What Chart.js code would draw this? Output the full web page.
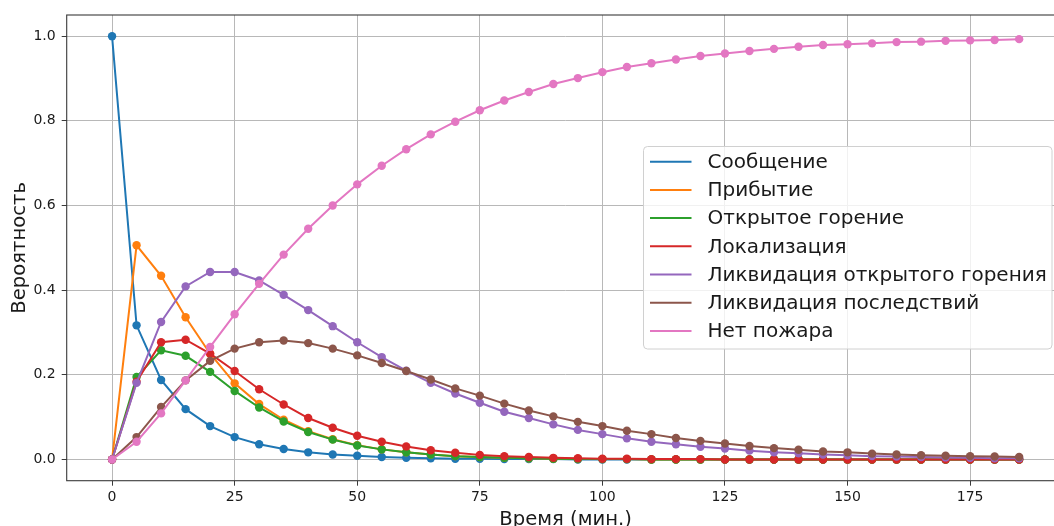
<!DOCTYPE html>
<html lang="ru">
<head>
<meta charset="utf-8">
<title>Вероятности состояний пожара</title>
<script src="https://cdn.jsdelivr.net/npm/chart.js@4.4.1/dist/chart.umd.min.js"></script>
<style>
  html, body { margin: 0; padding: 0; background: #ffffff; overflow: hidden; }
  #wrap { position: relative; width: 1075px; height: 526px; }
</style>
</head>
<body>
<div id="wrap"><canvas id="chart"></canvas></div>
<script>
// Time points, minutes
const minutes = [0, 5, 10, 15, 20, 25, 30, 35, 40, 45, 50, 55, 60, 65, 70, 75, 80, 85, 90, 95,
                 100, 105, 110, 115, 120, 125, 130, 135, 140, 145, 150, 155, 160, 165, 170, 175, 180, 185];

// State probabilities over time
const soobshchenie = [1.000, 0.317, 0.188, 0.119, 0.079, 0.053, 0.036, 0.025, 0.017, 0.012,
                      0.009, 0.006, 0.004, 0.003, 0.002, 0.002, 0.001, 0.001, 0.001, 0.000,
                      0.000, 0.000, 0.000, 0.000, 0.000, 0.000, 0.000, 0.000, 0.000, 0.000,
                      0.000, 0.000, 0.000, 0.000, 0.000, 0.000, 0.000, 0.000];
const pribytie = [0.000, 0.506, 0.434, 0.336, 0.250, 0.180, 0.131, 0.094, 0.067, 0.048,
                  0.034, 0.024, 0.017, 0.012, 0.008, 0.006, 0.004, 0.003, 0.002, 0.001,
                  0.001, 0.001, 0.000, 0.000, 0.000, 0.000, 0.000, 0.000, 0.000, 0.000,
                  0.000, 0.000, 0.000, 0.000, 0.000, 0.000, 0.000, 0.000];
const otkrytoeGorenie = [0.000, 0.195, 0.258, 0.245, 0.207, 0.162, 0.123, 0.090, 0.065, 0.047,
                         0.033, 0.024, 0.017, 0.012, 0.008, 0.006, 0.004, 0.003, 0.002, 0.001,
                         0.001, 0.001, 0.000, 0.000, 0.000, 0.000, 0.000, 0.000, 0.000, 0.000,
                         0.000, 0.000, 0.000, 0.000, 0.000, 0.000, 0.000, 0.000];
const lokalizatsiya = [0.000, 0.184, 0.277, 0.283, 0.250, 0.209, 0.166, 0.130, 0.098, 0.075,
                       0.056, 0.042, 0.031, 0.022, 0.016, 0.011, 0.008, 0.006, 0.004, 0.003,
                       0.002, 0.002, 0.001, 0.001, 0.001, 0.000, 0.000, 0.000, 0.000, 0.000,
                       0.000, 0.000, 0.000, 0.000, 0.000, 0.000, 0.000, 0.000];
const likvGoreniya = [0.000, 0.181, 0.325, 0.409, 0.443, 0.443, 0.423, 0.389, 0.353, 0.315,
                      0.277, 0.242, 0.210, 0.181, 0.156, 0.134, 0.113, 0.098, 0.083, 0.070,
                      0.060, 0.050, 0.042, 0.036, 0.030, 0.026, 0.021, 0.017, 0.015, 0.012,
                      0.010, 0.008, 0.007, 0.006, 0.005, 0.004, 0.003, 0.003];
const likvPosledstviy = [0.000, 0.053, 0.124, 0.187, 0.233, 0.262, 0.277, 0.281, 0.275, 0.262,
                         0.246, 0.228, 0.209, 0.189, 0.168, 0.151, 0.132, 0.116, 0.102, 0.089,
                         0.079, 0.068, 0.060, 0.051, 0.044, 0.038, 0.032, 0.027, 0.023, 0.019,
                         0.017, 0.014, 0.012, 0.010, 0.009, 0.008, 0.007, 0.006];
const netPozhara = [0.000, 0.042, 0.109, 0.187, 0.266, 0.343, 0.415, 0.484, 0.545, 0.600,
                    0.650, 0.694, 0.733, 0.768, 0.798, 0.825, 0.848, 0.868, 0.887, 0.901,
                    0.915, 0.927, 0.936, 0.945, 0.953, 0.959, 0.965, 0.970, 0.975, 0.979,
                    0.981, 0.983, 0.986, 0.987, 0.989, 0.990, 0.991, 0.993];

const seriesNames = ['Сообщение', 'Прибытие', 'Открытое горение', 'Локализация',
                     'Ликвидация открытого горения', 'Ликвидация последствий', 'Нет пожара'];
const seriesValues = [soobshchenie, pribytie, otkrytoeGorenie, lokalizatsiya,
                      likvGoreniya, likvPosledstviy, netPozhara];
const seriesColors = ['#1f77b4', '#ff7f0e', '#2ca02c', '#d62728', '#9467bd', '#8c564b', '#e377c2'];

// Axis ticks
const xTickValues = [0, 25, 50, 75, 100, 125, 150, 175];
const yTickValues = [0.0, 0.2, 0.4, 0.6, 0.8, 1.0];

const FONT = "'DejaVu Sans', 'Liberation Sans', sans-serif";
const TEXT_COLOR = '#1a1a1a';
const GRID_COLOR = '#b8b8b8';
const FRAME_COLOR = '#3a3a3a';

// Later series are painted over earlier ones
const datasets = seriesValues.map((vals, i) => ({
  label: seriesNames[i],
  data: minutes.map((m, k) => ({ x: m, y: vals[k] })),
  borderColor: seriesColors[i],
  backgroundColor: seriesColors[i],
  borderWidth: 2,
  pointRadius: 4.2,
  pointHoverRadius: 4.2,
  pointBorderWidth: 0,
  tension: 0,
  fill: false,
  order: seriesValues.length - i
}));

// Box around the plotting area
const framePlugin = {
  id: 'frame',
  afterDatasetsDraw(chart) {
    const { ctx, chartArea: a } = chart;
    ctx.save();
    ctx.strokeStyle = FRAME_COLOR;
    ctx.lineWidth = 1.1;
    ctx.strokeRect(a.left, a.top, a.right - a.left, a.bottom - a.top);
    ctx.restore();
  }
};

// Legend box inside the plot, right side
const legendBoxPlugin = {
  id: 'legendBox',
  afterDraw(chart) {
    const { ctx } = chart;
    const box = { left: 643.5, top: 146.5, right: 1052, bottom: 349 };
    const rowStart = 161.7, rowStep = 28.2;
    const handleX0 = 650, handleX1 = 691.5, textX = 707.5;
    ctx.save();
    ctx.beginPath();
    const r = 4;
    ctx.moveTo(box.left + r, box.top);
    ctx.arcTo(box.right, box.top, box.right, box.bottom, r);
    ctx.arcTo(box.right, box.bottom, box.left, box.bottom, r);
    ctx.arcTo(box.left, box.bottom, box.left, box.top, r);
    ctx.arcTo(box.left, box.top, box.right, box.top, r);
    ctx.closePath();
    ctx.fillStyle = 'rgba(255,255,255,0.8)';
    ctx.fill();
    ctx.strokeStyle = '#d0d0d0';
    ctx.lineWidth = 1;
    ctx.stroke();

    ctx.font = '20px ' + FONT;
    ctx.textBaseline = 'middle';
    ctx.textAlign = 'left';
    chart.data.datasets.forEach((ds, i) => {
      const y = rowStart + i * rowStep;
      ctx.strokeStyle = ds.borderColor;
      ctx.lineWidth = 2;
      ctx.beginPath();
      ctx.moveTo(handleX0, y);
      ctx.lineTo(handleX1, y);
      ctx.stroke();
      ctx.fillStyle = TEXT_COLOR;
      ctx.fillText(ds.label, textX, y + 1);
    });
    ctx.restore();
  }
};

new Chart(document.getElementById('chart'), {
  type: 'line',
  data: { datasets },
  plugins: [framePlugin, legendBoxPlugin],
  options: {
    responsive: true,
    maintainAspectRatio: false,
    devicePixelRatio: 1,
    animation: false,
    events: [],
    layout: { padding: { top: 15, right: 10.5, bottom: 0, left: 0 } },
    plugins: {
      legend: { display: false },
      tooltip: { enabled: false },
      title: { display: false }
    },
    scales: {
      x: {
        type: 'linear',
        min: -9.25,
        max: 194.25,
        afterBuildTicks(scale) { scale.ticks = xTickValues.map(v => ({ value: v })); },
        afterFit(scale) { scale.height = 45.3; },
        ticks: {
          font: { family: FONT, size: 14 },
          color: TEXT_COLOR,
          padding: 3.5,
          maxRotation: 0,
          autoSkip: false,
          callback: v => String(v)
        },
        grid: { color: GRID_COLOR, lineWidth: 1, drawTicks: true, tickLength: 5, tickColor: FRAME_COLOR, tickWidth: 1 },
        border: { display: false },
        title: {
          display: true,
          text: 'Время (мин.)',
          color: TEXT_COLOR,
          font: { family: FONT, size: 19.6, lineHeight: 1.2 },
          padding: { top: 0, bottom: -5.5 }
        }
      },
      y: {
        type: 'linear',
        min: -0.05,
        max: 1.05,
        afterBuildTicks(scale) { scale.ticks = yTickValues.map(v => ({ value: v })); },
        afterFit(scale) { scale.width = 66.7; },
        ticks: {
          font: { family: FONT, size: 14 },
          color: TEXT_COLOR,
          padding: 6,
          autoSkip: false,
          callback: v => v.toFixed(1)
        },
        grid: { color: GRID_COLOR, lineWidth: 1, drawTicks: true, tickLength: 5, tickColor: FRAME_COLOR, tickWidth: 1 },
        border: { display: false },
        title: {
          display: true,
          text: 'Вероятность',
          color: TEXT_COLOR,
          font: { family: FONT, size: 19.6, lineHeight: 1.2 },
          padding: { top: 8, bottom: 0 }
        }
      }
    }
  }
});
</script>
</body>
</html>
